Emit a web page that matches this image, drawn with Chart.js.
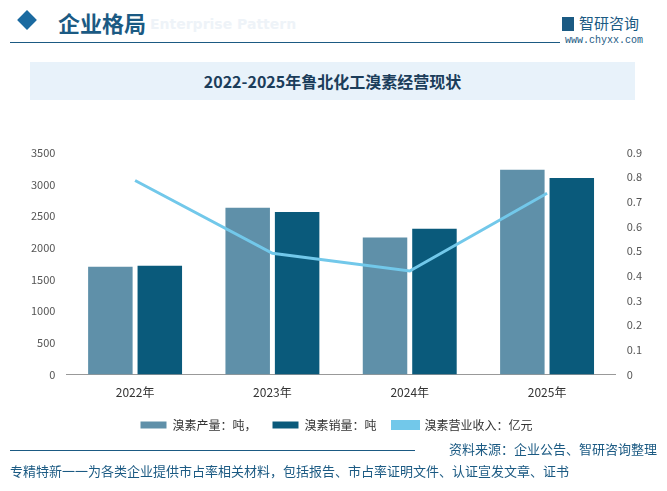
<!DOCTYPE html>
<html><head><meta charset="utf-8">
<script src="https://cdn.jsdelivr.net/npm/chart.js@4"></script>
<style>
body{margin:0;width:667px;height:491px;background:#fff;font-family:"Noto Sans CJK SC",sans-serif;position:relative;overflow:hidden}
.hd{position:absolute;left:18px;top:6px;font-size:22px;font-weight:bold;color:#1b5a83}
.dia{position:absolute;left:20px;top:13px;width:14px;height:14px;background:#1b6aa0;transform:rotate(45deg)}
.hd span{margin-left:40px}
.ghost{position:absolute;left:150px;top:16px;font:bold 14px "DejaVu Sans";color:#eef3f8}
.line1{position:absolute;left:10px;top:42px;width:550px;height:1px;background:#1b5a83}
.logo{position:absolute;left:562px;top:12px;font-size:15px;color:#1b5a83}
.logo i{display:inline-block;width:12px;height:14px;background:#1b5a83;margin-right:5px;vertical-align:-2px}
.url{position:absolute;left:565px;top:35px;font:10px "Liberation Mono";color:#1b5a83}
.tbox{position:absolute;left:30px;top:62px;width:605px;height:38px;background:#e8f2fa;text-align:center;line-height:38px;font-size:16px;font-weight:bold;color:#1b3d5a}
#wrap{position:absolute;left:0;top:143px;width:667px;height:298px}
.src{position:absolute;right:10px;top:439px;font-size:13px;color:#1b5a83}
.line2{position:absolute;left:10px;top:450px;width:405px;height:1px;background:#1b5a83}
.ft{position:absolute;left:10px;top:461px;font-size:13px;color:#1b5a83}
</style></head><body>
<div class="dia"></div><div class="hd"><span>企业格局</span></div>
<div class="ghost">Enterprise Pattern</div>
<div class="line1"></div>
<div class="logo"><i></i>智研咨询</div><div class="url">www.chyxx.com</div>
<div class="tbox">2022-2025年鲁北化工溴素经营现状</div>
<div id="wrap"><canvas id="c"></canvas></div>
<div class="src">资料来源：企业公告、智研咨询整理</div>
<div class="line2"></div>
<div class="ft">专精特新一一为各类企业提供市占率相关材料，包括报告、市占率证明文件、认证宣发文章、证书</div>
<script>
const years = ['2022年', '2023年', '2024年', '2025年'];
const production = [1700, 2630, 2160, 3230];
const sales = [1715, 2565, 2300, 3100];
const revenue = [0.787, 0.492, 0.42, 0.735];

Chart.defaults.font.family = '"Noto Sans CJK SC", sans-serif';
Chart.defaults.color = '#333';
new Chart(document.getElementById('c'), {
  data: {
    labels: years,
    datasets: [
      { type: 'bar', label: '溴素产量：吨，', data: production, yAxisID: 'y', backgroundColor: '#5f90a9', categoryPercentage: 0.72, barPercentage: 0.9, order: 1 },
      { type: 'bar', label: '溴素销量：吨', data: sales, yAxisID: 'y', backgroundColor: '#0a5a7b', categoryPercentage: 0.72, barPercentage: 0.9, order: 1 },
      { type: 'line', label: '溴素营业收入：亿元', data: revenue, yAxisID: 'y1', borderColor: '#72c8ea', backgroundColor: '#72c8ea', borderWidth: 3, pointRadius: 0, tension: 0, order: 0 },
    ],
  },
  options: {
    responsive: true, maintainAspectRatio: false, animation: false,
    layout: { padding: { left: 28, right: 22, top: 5 } },
    plugins: {
      legend: {
        position: 'bottom',
        labels: { boxWidth: 26, boxHeight: 7, font: { size: 12 }, padding: 16, sort: (a, b) => a.datasetIndex - b.datasetIndex },
      },
    },
    scales: {
      x: { grid: { display: false }, border: { color: '#999' }, ticks: { font: { size: 12 } } },
      y: { min: 0, max: 3500, ticks: { stepSize: 500, font: { size: 11 }, color: '#555', callback: (v) => String(v) }, grid: { display: false }, border: { display: false } },
      y1: { position: 'right', min: 0, max: 0.9, ticks: { stepSize: 0.1, font: { size: 11 }, color: '#555' }, grid: { display: false }, border: { display: false } },
    },
  },
});
</script>
</body></html>
